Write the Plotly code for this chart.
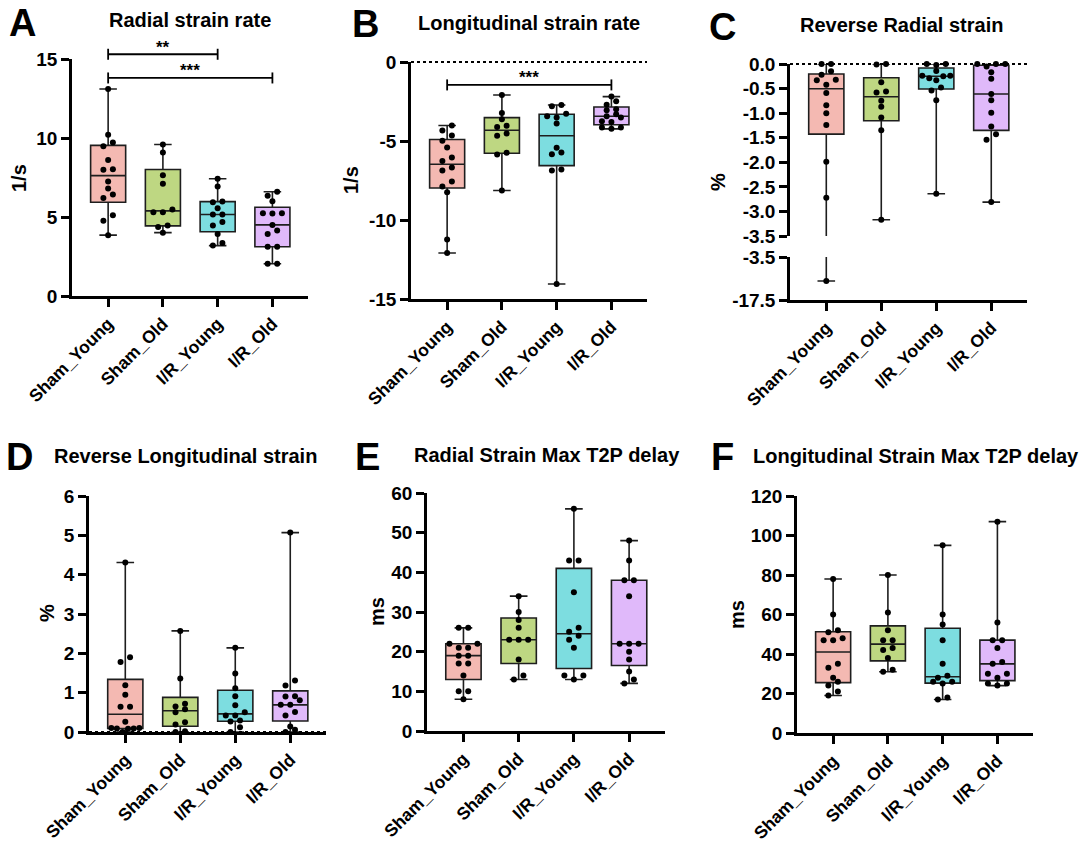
import numpy as np
import plotly.graph_objects as go

# ---------------------------------------------------------------- data
GROUPS = ["Sham_Young", "Sham_Old", "I/R_Young", "I/R_Old"]

# A: radial strain rate (1/s)
radial_strain_rate = [
    [13.1, 10.2, 9.72, 9.47, 8.6, 8.03, 7.99, 7.25, 6.8, 6.42, 6.21, 5.11, 4.77, 3.85],
    [9.59, 9.08, 7.65, 7.1, 5.47, 5.3, 5.3, 4.46, 4.37, 4.01],
    [7.42, 6.93, 5.98, 5.94, 5.56, 5.16, 5.16, 4.69, 4.46, 3.93, 3.36, 3.19],
    [6.6, 6.35, 6.0, 5.24, 5.24, 5.22, 4.5, 4.14, 3.93, 3.12, 3.12, 2.04, 2.04],
]
# B: longitudinal strain rate (1/s)
longitudinal_strain_rate = [
    [-4.02, -4.34, -4.65, -4.99, -5.41, -6.04, -6.26, -6.68, -6.87, -7.56, -7.88, -8.24, -11.23, -12.09],
    [-2.09, -3.22, -3.62, -4.04, -4.11, -4.53, -4.66, -5.75, -5.86, -8.13],
    [-2.72, -2.8, -3.27, -3.43, -3.52, -3.9, -5.43, -5.73, -5.84, -6.8, -6.87, -14.05],
    [-2.19, -2.49, -2.7, -2.99, -3.05, -3.31, -3.43, -3.52, -3.75, -3.8, -4.15, -4.15, -4.23],
]
# C: reverse radial strain (%)
reverse_radial_strain = [
    [0.0, 0.0, -0.15, -0.22, -0.32, -0.33, -0.42, -0.59, -0.84, -1.0, -1.24, -1.99, -2.72, -11.3],
    [0.0, -0.01, -0.37, -0.56, -0.58, -0.75, -0.87, -1.09, -1.35, -3.17],
    [0.0, 0.0, -0.02, -0.14, -0.24, -0.24, -0.25, -0.29, -0.33, -0.48, -0.54, -0.74, -2.64],
    [0.0, 0.0, 0.0, -0.05, -0.17, -0.3, -0.61, -0.74, -0.99, -1.27, -1.43, -1.54, -2.81],
]
# D: reverse longitudinal strain (%)
reverse_longitudinal_strain = [
    [4.31, 1.9, 1.78, 1.19, 0.95, 0.64, 0.64, 0.26, 0.1, 0.1, 0.09, 0.09, 0.08, 0.0],
    [2.57, 1.36, 0.72, 0.65, 0.58, 0.5, 0.25, 0.19, 0.02, 0.0],
    [2.14, 1.49, 1.11, 0.91, 0.68, 0.5, 0.42, 0.42, 0.29, 0.27, 0.12, 0.0],
    [5.07, 1.31, 1.18, 0.91, 0.9, 0.81, 0.69, 0.69, 0.51, 0.42, 0.14, 0.06, 0.0],
]
# E: radial strain max time-to-peak delay (ms)
radial_t2p_delay = [
    [26, 26, 22, 22, 21, 21, 19, 19, 17, 17, 14, 10, 10, 8],
    [34, 30, 28, 26, 23, 23, 23, 18, 14, 13],
    [56, 43, 43, 35, 26, 25, 24, 23, 21, 14, 14, 13],
    [48, 43, 38, 38, 34, 22, 22, 22, 20, 18, 15, 13, 12],
]
# F: longitudinal strain max time-to-peak delay (ms)
longitudinal_t2p_delay = [
    [78, 60, 52, 51, 48, 47, 47, 35, 33, 28, 26, 24, 21, 19],
    [80, 61, 52, 47, 47, 43, 42, 38, 32, 31],
    [95, 60, 55, 47, 35, 29, 28, 26, 26, 25, 18, 17],
    [107, 56, 47, 47, 43, 36, 35, 30, 30, 28, 25, 25, 24],
]

# ---------------------------------------------------------------- style
W, H = 1086, 843
FONT = "Liberation Sans, Arial, Helvetica, sans-serif"
FILLS = ["#F4B9B2", "#BED782", "#7DDDE0", "#E0B9FA"]
XR = [-0.66, 3.65]
BOX_W = 0.64
YTICK_SIZE = 19
XTICK_SIZE = 17.5
TITLE_SIZE = 20
LETTER_SIZE = 38

fig = go.Figure()
layout = {}
shapes = []
annotations = []


def pxx(px):
    return px / W


def pxy(py):
    return 1 - py / H


def axis_style(size):
    return dict(showline=True, linecolor="black", linewidth=2.5, ticks="outside",
                ticklen=8, tickwidth=2.5, tickcolor="black", showgrid=False,
                zeroline=False, mirror=False, automargin=False,
                tickfont=dict(family=FONT, size=size, color="black", weight="bold"))


def swarm(values, px_per_unit, px_per_cat, thr=5.5, step=9.5, span=28.0):
    """Horizontal offsets (category units) for a GraphPad-like scatter."""
    v = np.asarray(values, float)
    order = np.argsort(v)
    clusters, cur = [], [order[0]]
    for idx in order[1:]:
        if abs(v[idx] - v[cur[0]]) * px_per_unit < thr:
            cur.append(idx)
        else:
            clusters.append(cur)
            cur = [idx]
    clusters.append(cur)
    off = np.zeros(len(v))
    for cl in clusters:
        k = len(cl)
        if k == 1:
            continue
        s = min(step, span / (k - 1))
        slots = sorted([j - (k - 1) / 2 for j in range(k)], key=lambda t: (abs(t), t))
        for idx, sl in zip(cl, slots):
            off[idx] = sl * s / px_per_cat
    return off


def add_boxes(data, xa, ya):
    for i, vals in enumerate(data):
        v = np.asarray(vals, float)
        q1, med, q3 = np.percentile(v, [25, 50, 75], method="weibull")
        fig.add_trace(go.Box(
            x=[i], q1=[q1], median=[med], q3=[q3],
            lowerfence=[v.min()], upperfence=[v.max()],
            fillcolor=FILLS[i], line=dict(color="#1e1e1e", width=1.6),
            width=BOX_W, whiskerwidth=0.5, boxpoints=False, orientation="v",
            xaxis=xa, yaxis=ya, showlegend=False, hoverinfo="skip"))


def add_points(vals, i, xa, ya, px_per_unit, px_per_cat):
    v = np.asarray(vals, float)
    off = swarm(v, px_per_unit, px_per_cat)
    fig.add_trace(go.Scatter(
        x=i + off, y=v, mode="markers", cliponaxis=False,
        marker=dict(color="black", size=6, line=dict(width=0)),
        xaxis=xa, yaxis=ya, showlegend=False, hoverinfo="skip"))


def tick_labels(vals, fmt):
    return [fmt.format(t) for t in vals]


def x_axis(x_px, anchor):
    return dict(domain=[pxx(x_px[0]), pxx(x_px[1])], range=XR, anchor=anchor,
                tickvals=list(range(len(GROUPS))), ticktext=GROUPS,
                tickangle=-45, **axis_style(XTICK_SIZE))


def y_axis(y_px, yrange, anchor, ticks, fmt):
    return dict(domain=[pxy(y_px[1]), pxy(y_px[0])], range=list(yrange),
                anchor=anchor, tickvals=ticks, ticktext=tick_labels(ticks, fmt),
                **axis_style(YTICK_SIZE))


def panel(n, data, x_px, y_px, yrange, yticks, fmt="{:g}"):
    xa = "x" if n == 1 else f"x{n}"
    ya = "y" if n == 1 else f"y{n}"
    xk = "xaxis" if n == 1 else f"xaxis{n}"
    yk = "yaxis" if n == 1 else f"yaxis{n}"
    layout[xk] = x_axis(x_px, ya)
    layout[yk] = y_axis(y_px, yrange, xa, yticks, fmt)
    ppu = (y_px[1] - y_px[0]) / (yrange[1] - yrange[0])
    ppc = (x_px[1] - x_px[0]) / (XR[1] - XR[0])
    add_boxes(data, xa, ya)
    for i, vals in enumerate(data):
        add_points(vals, i, xa, ya, ppu, ppc)


def to_paper(value, y_px, yrange):
    frac = (value - yrange[0]) / (yrange[1] - yrange[0])
    return pxy(y_px[1] - frac * (y_px[1] - y_px[0]))


def cat_paper(i, x_px):
    frac = (i - XR[0]) / (XR[1] - XR[0])
    return pxx(x_px[0] + frac * (x_px[1] - x_px[0]))


def bracket(i0, i1, value, x_px, y_px, yrange, label):
    yp = to_paper(value, y_px, yrange)
    x0, x1 = cat_paper(i0, x_px), cat_paper(i1, x_px)
    tick = 5.5 / H
    line = dict(color="black", width=1.8)
    shapes.append(dict(type="line", xref="paper", yref="paper", x0=x0, x1=x1, y0=yp, y1=yp, line=line))
    for xx in (x0, x1):
        shapes.append(dict(type="line", xref="paper", yref="paper", x0=xx, x1=xx,
                           y0=yp - tick, y1=yp + tick, line=line))
    annotations.append(dict(text=label, xref="paper", yref="paper", x=(x0 + x1) / 2,
                            y=yp + 7.0 / H, xanchor="center", yanchor="middle", showarrow=False,
                            font=dict(family=FONT, size=17, color="black", weight="bold")))


def zero_line(x_px, yp):
    shapes.append(dict(type="line", xref="paper", yref="paper", x0=pxx(x_px[0]), x1=pxx(x_px[1]),
                       y0=yp, y1=yp, line=dict(color="black", width=2, dash="dot")))


def text(s, x, y, size, angle=0):
    annotations.append(dict(text=s, xref="paper", yref="paper", x=pxx(x), y=pxy(y),
                            xanchor="center", yanchor="middle", showarrow=False, textangle=angle,
                            font=dict(family=FONT, size=size, color="black", weight="bold")))


# ---------------------------------------------------------------- panels
# A
A_x, A_y, A_r = (72, 308), (59, 296), (0, 15)
panel(1, radial_strain_rate, A_x, A_y, A_r, [0, 5, 10, 15])
bracket(0, 2, 15.3, A_x, A_y, A_r, "**")
bracket(0, 3, 13.8, A_x, A_y, A_r, "***")

# B
B_x, B_y, B_r = (411, 647), (62, 299), (-15, 0)
panel(2, longitudinal_strain_rate, B_x, B_y, B_r, [0, -5, -10, -15])
zero_line(B_x, to_paper(0, B_y, B_r))
bracket(0, 3, -1.45, B_x, B_y, B_r, "***")

# C (broken axis: upper segment 0 .. -3.5, lower segment -3.5 .. -17.5)
C_x = (790, 1027)
C_up_y, C_up_r = (64, 236), (-3.5, 0.0)
C_lo_y, C_lo_r = (257, 300), (-17.5, -3.5)
ppc_c = (C_x[1] - C_x[0]) / (XR[1] - XR[0])
layout["xaxis3"] = x_axis(C_x, "y3")
layout["yaxis3"] = y_axis(C_lo_y, C_lo_r, "x3", [-17.5, -3.5], "{:.1f}")
layout["yaxis7"] = y_axis(C_up_y, C_up_r, "x3",
                          [-3.5, -3.0, -2.5, -2.0, -1.5, -1.0, -0.5, 0.0], "{:.1f}")
add_boxes(reverse_radial_strain, "x3", "y7")
add_boxes(reverse_radial_strain, "x3", "y3")
ppu_up = (C_up_y[1] - C_up_y[0]) / (C_up_r[1] - C_up_r[0])
ppu_lo = (C_lo_y[1] - C_lo_y[0]) / (C_lo_r[1] - C_lo_r[0])
for i, vals in enumerate(reverse_radial_strain):
    v = np.asarray(vals, float)
    upper = v[v >= C_up_r[0]]
    lower = v[v < C_up_r[0]]
    add_points(upper, i, "x3", "y7", ppu_up, ppc_c)
    if lower.size:
        add_points(lower, i, "x3", "y3", ppu_lo, ppc_c)
zero_line(C_x, to_paper(0, C_up_y, C_up_r))

# D
D_x, D_y, D_r = (89, 326), (496, 732), (0, 6)
panel(4, reverse_longitudinal_strain, D_x, D_y, D_r, [0, 1, 2, 3, 4, 5, 6])
zero_line(D_x, to_paper(0, D_y, D_r))

# E
E_x, E_y, E_r = (427, 665), (493, 731), (0, 60)
panel(5, radial_t2p_delay, E_x, E_y, E_r, [0, 10, 20, 30, 40, 50, 60])

# F
F_x, F_y, F_r = (797, 1033), (496, 733), (0, 120)
panel(6, longitudinal_t2p_delay, F_x, F_y, F_r, [0, 20, 40, 60, 80, 100, 120])

# ---------------------------------------------------------------- titles and labels
text("Radial strain rate", 190, 20, TITLE_SIZE)
text("Longitudinal strain rate", 529, 23, TITLE_SIZE)
text("Reverse Radial strain", 901, 25, TITLE_SIZE)
text("Reverse Longitudinal strain", 185, 456, TITLE_SIZE)
text("Radial Strain Max T2P delay", 547, 455, TITLE_SIZE)
text("Longitudinal Strain Max T2P delay", 916, 456, TITLE_SIZE)

for letter, (lx, ly) in zip("ABCDEF", [(22, 23), (365, 24), (722, 27),
                                       (19, 457), (367, 457), (722, 457)]):
    text(letter, lx, ly, LETTER_SIZE)

for s, (tx, ty) in zip(["1/s", "1/s", "%", "%", "ms", "ms"],
                       [(19, 178), (351, 180), (718, 182), (47, 613), (377, 612), (737, 615)]):
    text(s, tx, ty, TITLE_SIZE, angle=-90)

fig.update_layout(
    width=W, height=H, autosize=False, margin=dict(l=0, r=0, t=0, b=0, pad=0, autoexpand=False),
    paper_bgcolor="white", plot_bgcolor="white", showlegend=False,
    font=dict(family=FONT, color="black"),
    shapes=shapes, annotations=annotations, **layout)

fig.write_html("out.html")
